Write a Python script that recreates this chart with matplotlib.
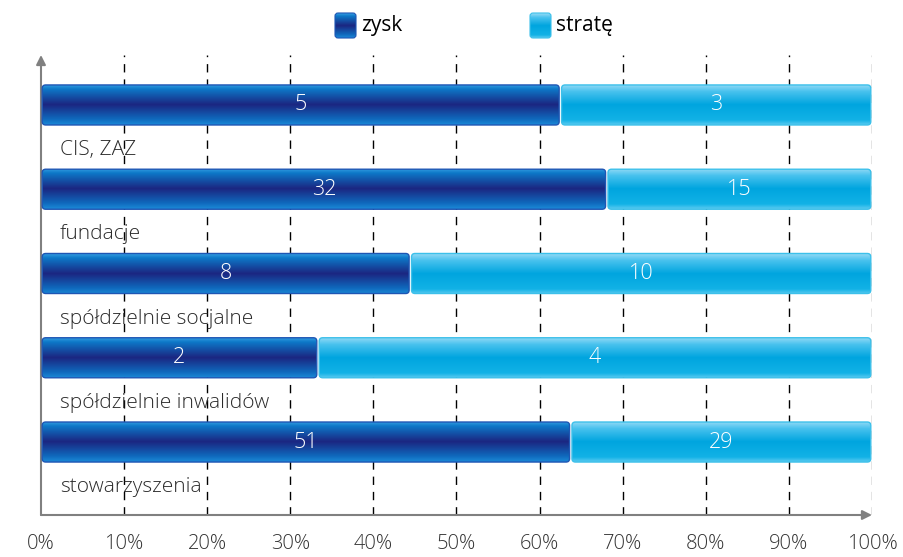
import numpy as np
import matplotlib
matplotlib.use("Agg")
import matplotlib.pyplot as plt
from matplotlib.colors import LinearSegmentedColormap
from matplotlib.patches import FancyBboxPatch

# data
categories = ["CIS, ZAZ", "fundacje", "spółdzielnie socjalne",
              "spółdzielnie inwalidów", "stowarzyszenia"]
zysk = [5, 32, 8, 2, 51]
strate = [3, 15, 10, 4, 29]
series_names = ["zysk", "stratę"]
tick_labels = [f"{p}%" for p in range(0, 101, 10)]

plt.rcParams["font.family"] = ["Open Sans", "DejaVu Sans"]

dark_cmap = LinearSegmentedColormap.from_list(
    "dark", [(0, "#3aa2e4"), (0.12, "#0d78c8"), (0.5, "#1b2681"),
             (0.85, "#0f68bc"), (1, "#1c8ad8")])
light_cmap = LinearSegmentedColormap.from_list(
    "light", [(0, "#9adcf6"), (0.18, "#48c2ee"), (0.5, "#00a5df"),
              (0.88, "#12b2e6"), (1, "#5ccbf0")])

W, H = 904, 557
fig = plt.figure(figsize=(W / 100, H / 100), dpi=100)
ax = fig.add_axes([41 / W, (H - 515) / H, (872 - 41) / W, 460 / H])

ymin, ymax = -0.593, 4.866
bar_h = 0.475
ppx = 831.0          # pixels per 1.0 of x
ppy = 84.25          # pixels per 1.0 of y
grad = np.linspace(0, 1, 256).reshape(-1, 1)


def grad_bar(ax, x0, x1, yc, cmap, edge):
    gap = 1.2 / ppx
    x0, x1 = x0 + gap, x1 - gap
    r = 3.5 / ppx
    patch = FancyBboxPatch((x0, yc - bar_h / 2), x1 - x0, bar_h,
                           boxstyle=f"round,pad=0,rounding_size={r}",
                           mutation_aspect=ppx / ppy,
                           facecolor="none", edgecolor=edge, lw=1.0, zorder=4)
    ax.add_patch(patch)
    im = ax.imshow(grad, cmap=cmap, aspect="auto", origin="upper",
                   extent=(x0, x1, yc + bar_h / 2, yc - bar_h / 2), zorder=3)
    im.set_clip_path(patch)


totals = [z + s for z, s in zip(zysk, strate)]
for i, (z, s, t) in enumerate(zip(zysk, strate, totals)):
    fz = z / t
    grad_bar(ax, 0, fz, i, dark_cmap, "#1e56b4")
    grad_bar(ax, fz, 1, i, light_cmap, "#3cc0ea")
    ax.text(fz / 2, i, str(z), color="white", ha="center", va="center",
            fontsize=15.5, fontweight="light", zorder=5)
    ax.text(fz + (1 - fz) / 2, i, str(s), color="white", ha="center",
            va="center", fontsize=15.5, fontweight="light", zorder=5)
    ax.text(0.023, i + 0.535, categories[i], color="#2a2a2a", ha="left",
            va="center", fontsize=15, fontweight="light", zorder=5)

for k in range(1, 10):
    ax.axvline(k / 10, color="black", ls=(0, (6, 5)), lw=1.0, zorder=1)
ax.axvline(1.0, color="#777777", ls=(0, (6, 5)), lw=1.0, zorder=1)

ax.set_xlim(0, 1)
ax.set_ylim(ymax, ymin)
for sp in ["top", "right", "left", "bottom"]:
    ax.spines[sp].set_visible(False)
ax.set_yticks([])
ax.set_xticks(np.linspace(0, 1, 11))
ax.set_xticklabels(tick_labels, fontsize=14.5, color="#333333",
                   fontweight="light")
ax.tick_params(axis="x", length=0, pad=14)

# axis arrows
ax.annotate("", xy=(0, 1.0), xytext=(0, 0), xycoords="axes fraction",
            arrowprops=dict(arrowstyle="-|>", color="#808080", lw=1.5,
                            mutation_scale=14, shrinkA=0, shrinkB=0))
ax.annotate("", xy=(1.0, 0), xytext=(0, 0), xycoords="axes fraction",
            arrowprops=dict(arrowstyle="-|>", color="#808080", lw=1.5,
                            mutation_scale=14, shrinkA=0, shrinkB=0))

# legend drawn in pixel overlay
lax = fig.add_axes([0, 0, 1, 1], facecolor="none")
lax.set_xlim(0, W)
lax.set_ylim(H, 0)
lax.axis("off")
for name, cmap, edge, x in [(series_names[0], dark_cmap, "#1e56b4", 335),
                            (series_names[1], light_cmap, "#3cc0ea", 530)]:
    p = FancyBboxPatch((x, 13), 21, 25, boxstyle="round,pad=0,rounding_size=3",
                       facecolor="none", edgecolor=edge, lw=0.8)
    lax.add_patch(p)
    im = lax.imshow(grad, cmap=cmap, aspect="auto", origin="upper",
                    extent=(x, x + 21, 38, 13))
    im.set_clip_path(p)
    lax.text(x + 26, 26, name, fontsize=15, color="black", ha="left",
             va="center")
lax.set_xlim(0, W)
lax.set_ylim(H, 0)

fig.savefig("out.png", dpi=100)
